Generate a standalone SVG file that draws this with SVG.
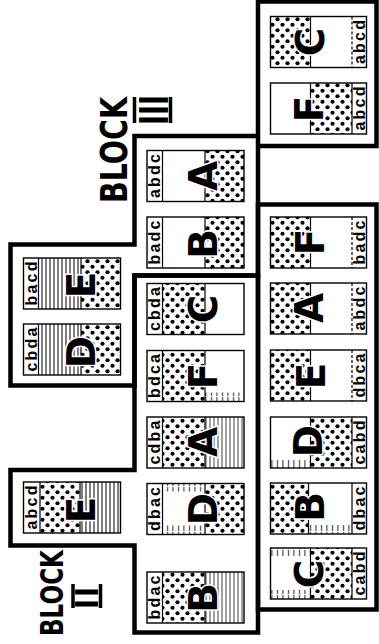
<svg xmlns="http://www.w3.org/2000/svg" width="379" height="644" viewBox="0 0 379 644">
<defs>
<pattern id="dots" width="10" height="11" patternUnits="userSpaceOnUse"><circle cx="2.5" cy="2.75" r="2.1"/><circle cx="7.5" cy="8.25" r="2.1"/></pattern>
<pattern id="hatch" width="4" height="8" patternUnits="userSpaceOnUse"><line x1="2" y1="0" x2="2" y2="8" stroke="#000" stroke-width="1"/></pattern>
<pattern id="hf" width="5.5" height="9" patternUnits="userSpaceOnUse"><line x1="2.5" y1="1" x2="2.5" y2="9" stroke="#000" stroke-width="0.9"/></pattern>
</defs>
<style>
.o{fill:none;stroke:#000;stroke-width:4.5;stroke-linejoin:miter;stroke-linecap:square}
.c{fill:none;stroke:#000;stroke-width:1.4}
.d{fill:url(#dots)}
.h{fill:url(#hatch)}
.hf{fill:url(#hf)}
.sp{stroke:#000;stroke-width:1.2}
.sd{stroke:#000;stroke-width:1.2;stroke-dasharray:3 2}
.L{font-family:"DejaVu Sans","Liberation Sans",sans-serif;font-weight:bold;font-size:39px;text-anchor:middle;dominant-baseline:central;fill:#000;stroke:#fff;stroke-width:3;paint-order:stroke}
.s{font-family:"Liberation Sans",Arial,sans-serif;font-weight:bold;font-size:16px;text-anchor:middle;dominant-baseline:central}
.b{font-family:"DejaVu Sans","Liberation Sans",sans-serif;font-weight:bold}
.n{font-family:"Liberation Sans",Arial,sans-serif;font-weight:bold;text-anchor:middle}
.bar{stroke:#000;stroke-width:3.5}
</style>

<g id="outlines">
<path id="block3-outline" class="o" d="M258,1.5 H376.5 V146 H258 Z M258,136 H134.5 V244.5 H10.5 V385.5 H134.5 V275.5 H258 Z"/>
<path id="block2-outline" class="o" d="M258,275.5 H134.5 V470 H10.5 V545.5 H134.5 V632.5 H258 Z"/>
<path id="block-right-outline" class="o" d="M258,204.5 H376.5 V609.5 H258 Z"/>
</g>

<g id="label-block3">
<text class="b" font-size="29" textLength="106" lengthAdjust="spacingAndGlyphs" transform="translate(127,203) rotate(-90) scale(1,1.28)">BLOCK</text>
<text class="n" font-size="36" transform="translate(168,110) rotate(-90) scale(1,1.2)">III</text>
<line class="bar" x1="134.5" y1="97" x2="134.5" y2="123"/>
<line class="bar" x1="170.5" y1="97" x2="170.5" y2="123"/>
</g>

<g id="label-block2">
<text class="b" font-size="24" textLength="86" lengthAdjust="spacingAndGlyphs" transform="translate(63,636) rotate(-90) scale(1,1.3)">BLOCK</text>
<text class="n" font-size="36" letter-spacing="2" transform="translate(98,597) rotate(-90) scale(1,0.9)">II</text>
<line class="bar" x1="73" y1="584" x2="73" y2="608"/>
<line class="bar" x1="100.5" y1="584" x2="100.5" y2="608"/>
</g>

<!-- Right column -->
<g id="R1-C">
<rect class="d" x="270.5" y="16.5" width="40" height="51"/>
<line class="sp" x1="310.5" y1="16.5" x2="310.5" y2="67.5"/>
<line class="sd" x1="352" y1="16.5" x2="352" y2="67.5"/>
<rect class="c" x="270.5" y="16.5" width="96" height="51"/>
<text class="L" transform="translate(310,42) rotate(-90)">C</text>
<text class="s" textLength="44" transform="translate(359.3,42) rotate(-90)">abcd</text>
</g>
<g id="R2-F">
<rect class="d" x="310.5" y="83" width="41.5" height="51"/>
<line class="sp" x1="310.5" y1="83" x2="310.5" y2="134"/>
<line class="sp" x1="352" y1="83" x2="352" y2="134"/>
<rect class="c" x="270.5" y="83" width="96" height="51"/>
<text class="L" transform="translate(309,109) rotate(-90)">F</text>
<text class="s" textLength="44" transform="translate(359.3,108.5) rotate(-90)">abcd</text>
</g>
<g id="R3-F">
<rect class="d" x="270.5" y="217" width="40" height="51"/>
<line class="sp" x1="310.5" y1="217" x2="310.5" y2="268"/>
<line class="sd" x1="352" y1="217" x2="352" y2="268"/>
<rect class="c" x="270.5" y="217" width="96" height="51"/>
<text class="L" transform="translate(310,242) rotate(-90)">F</text>
<text class="s" textLength="44" transform="translate(359.3,242.5) rotate(-90)">badc</text>
</g>
<g id="R4-A">
<rect class="d" x="270.5" y="283" width="40" height="51"/>
<line class="sp" x1="310.5" y1="283" x2="310.5" y2="334"/>
<line class="sd" x1="352" y1="283" x2="352" y2="334"/>
<rect class="c" x="270.5" y="283" width="96" height="51"/>
<text class="L" transform="translate(309,308) rotate(-90)">A</text>
<text class="s" textLength="44" transform="translate(359.3,308.5) rotate(-90)">abdc</text>
</g>
<g id="R5-E">
<rect class="d" x="270.5" y="350" width="40" height="51"/>
<line class="sp" x1="310.5" y1="350" x2="310.5" y2="401"/>
<line class="sd" x1="352" y1="350" x2="352" y2="401"/>
<rect class="c" x="270.5" y="350" width="96" height="51"/>
<text class="L" transform="translate(311,376) rotate(-90)">E</text>
<text class="s" textLength="44" transform="translate(359.3,375.5) rotate(-90)">dbca</text>
</g>
<g id="R6-D">
<rect class="hf" x="270.5" y="459" width="40" height="9"/>
<rect class="d" x="310.5" y="417" width="41.5" height="51"/>
<line class="sp" x1="310.5" y1="417" x2="310.5" y2="468"/>
<line class="sp" x1="352" y1="417" x2="352" y2="468"/>
<rect class="c" x="270.5" y="417" width="96" height="51"/>
<text class="L" transform="translate(308,441) rotate(-90)">D</text>
<text class="s" textLength="44" transform="translate(359.3,442.5) rotate(-90)">cabd</text>
</g>
<g id="R7-B">
<rect class="d" x="270.5" y="483" width="38" height="51"/>
<rect class="hf" x="308.5" y="525" width="43.5" height="9"/>
<line class="sp" x1="308.5" y1="483" x2="308.5" y2="534"/>
<line class="sp" x1="352" y1="483" x2="352" y2="534"/>
<rect class="c" x="270.5" y="483" width="96" height="51"/>
<text class="L" transform="translate(310,507) rotate(-90)">B</text>
<text class="s" textLength="44" transform="translate(359.3,508.5) rotate(-90)">dbac</text>
</g>
<g id="R8-C">
<rect class="hf" x="270.5" y="548" width="40" height="8"/>
<rect class="hf" x="270.5" y="590" width="40" height="9"/>
<rect class="d" x="310.5" y="548" width="41.5" height="51"/>
<line class="sp" x1="310.5" y1="548" x2="310.5" y2="599"/>
<line class="sp" x1="352" y1="548" x2="352" y2="599"/>
<rect class="c" x="270.5" y="548" width="96" height="51"/>
<text class="L" transform="translate(309,574) rotate(-90)">C</text>
<text class="s" textLength="44" transform="translate(359.3,573.5) rotate(-90)">cabd</text>
</g>

<!-- Middle column -->
<g id="M1-A">
<rect class="d" x="205" y="150.5" width="39" height="51"/>
<line class="sp" x1="205" y1="150.5" x2="205" y2="201.5"/>
<line class="sp" x1="162.5" y1="150.5" x2="162.5" y2="201.5"/>
<rect class="c" x="147" y="150.5" width="97" height="51"/>
<text class="L" transform="translate(203,176) rotate(-90)">A</text>
<text class="s" textLength="44" transform="translate(154.8,176) rotate(-90)">abdc</text>
</g>
<g id="M2-B">
<rect class="d" x="205" y="217" width="39" height="51"/>
<line class="sp" x1="205" y1="217" x2="205" y2="268"/>
<line class="sp" x1="162.5" y1="217" x2="162.5" y2="268"/>
<rect class="c" x="147" y="217" width="97" height="51"/>
<text class="L" transform="translate(203,244) rotate(-90)">B</text>
<text class="s" textLength="44" transform="translate(154.8,242.5) rotate(-90)">badc</text>
</g>
<g id="M3-C">
<rect class="d" x="162.5" y="283.5" width="42.5" height="51"/>
<line class="sp" x1="205" y1="283.5" x2="205" y2="334.5"/>
<line class="sp" x1="162.5" y1="283.5" x2="162.5" y2="334.5"/>
<rect class="c" x="147" y="283.5" width="97" height="51"/>
<text class="L" transform="translate(203,309) rotate(-90)">C</text>
<text class="s" textLength="44" transform="translate(154.8,309) rotate(-90)">cbda</text>
</g>
<g id="M4-F">
<rect class="d" x="162.5" y="350.5" width="42.5" height="51"/>
<rect class="hf" x="205" y="392.5" width="39" height="9"/>
<line class="sp" x1="205" y1="350.5" x2="205" y2="401.5"/>
<line class="sp" x1="162.5" y1="350.5" x2="162.5" y2="401.5"/>
<rect class="c" x="147" y="350.5" width="97" height="51"/>
<text class="L" transform="translate(203,376) rotate(-90)">F</text>
<text class="s" textLength="44" transform="translate(154.8,376) rotate(-90)">bdca</text>
</g>
<g id="M5-A">
<rect class="d" x="162.5" y="417" width="42.5" height="51"/>
<rect class="h" x="205" y="417" width="39" height="51" opacity="0.75"/>
<line class="sp" x1="205" y1="417" x2="205" y2="468"/>
<line class="sp" x1="162.5" y1="417" x2="162.5" y2="468"/>
<rect class="c" x="147" y="417" width="97" height="51"/>
<text class="L" transform="translate(203,442) rotate(-90)">A</text>
<text class="s" textLength="44" transform="translate(154.8,442.5) rotate(-90)">cdba</text>
</g>
<g id="M6-D">
<rect class="hf" x="162.5" y="483.5" width="42.5" height="8"/>
<rect class="hf" x="162.5" y="525.5" width="42.5" height="9"/>
<rect class="d" x="205" y="483.5" width="39" height="51"/>
<line class="sp" x1="205" y1="483.5" x2="205" y2="534.5"/>
<line class="sp" x1="162.5" y1="483.5" x2="162.5" y2="534.5"/>
<rect class="c" x="147" y="483.5" width="97" height="51"/>
<text class="L" transform="translate(203,509) rotate(-90)">D</text>
<text class="s" textLength="44" transform="translate(154.8,509) rotate(-90)">dbac</text>
</g>
<g id="M7-B">
<rect class="d" x="162.5" y="572" width="42.5" height="51"/>
<rect class="h" x="205" y="572" width="39" height="51" opacity="0.75"/>
<line class="sp" x1="205" y1="572" x2="205" y2="623"/>
<line class="sp" x1="162.5" y1="572" x2="162.5" y2="623"/>
<rect class="c" x="147" y="572" width="97" height="51"/>
<text class="L" transform="translate(203,598) rotate(-90)">B</text>
<text class="s" textLength="44" transform="translate(154.8,597.5) rotate(-90)">bdac</text>
</g>

<!-- Left column -->
<g id="L1-E">
<rect class="h" x="38.5" y="258" width="42.5" height="51"/>
<rect class="d" x="81" y="258" width="39.5" height="51"/>
<line class="sp" x1="81" y1="258" x2="81" y2="309"/>
<line class="sp" x1="38.5" y1="258" x2="38.5" y2="309"/>
<rect class="c" x="23.5" y="258" width="97" height="51"/>
<text class="L" transform="translate(81,285) rotate(-90)">E</text>
<text class="s" textLength="44" transform="translate(31,283.5) rotate(-90)">bacd</text>
</g>
<g id="L2-D">
<rect class="h" x="38.5" y="324" width="42.5" height="51"/>
<rect class="d" x="81" y="324" width="39.5" height="51"/>
<line class="sp" x1="81" y1="324" x2="81" y2="375"/>
<line class="sp" x1="38.5" y1="324" x2="38.5" y2="375"/>
<rect class="c" x="23.5" y="324" width="97" height="51"/>
<text class="L" transform="translate(81,352) rotate(-90)">D</text>
<text class="s" textLength="44" transform="translate(31,349.5) rotate(-90)">cbda</text>
</g>
<g id="L3-E">
<rect class="d" x="40" y="482" width="40" height="51"/>
<rect class="h" x="80" y="482" width="40.5" height="51"/>
<line class="sp" x1="80" y1="482" x2="80" y2="533"/>
<line class="sp" x1="40" y1="482" x2="40" y2="533"/>
<rect class="c" x="23.5" y="482" width="97" height="51"/>
<text class="L" transform="translate(81,510) rotate(-90)">E</text>
<text class="s" textLength="44" transform="translate(31.5,507.5) rotate(-90)">abcd</text>
</g>
</svg>
